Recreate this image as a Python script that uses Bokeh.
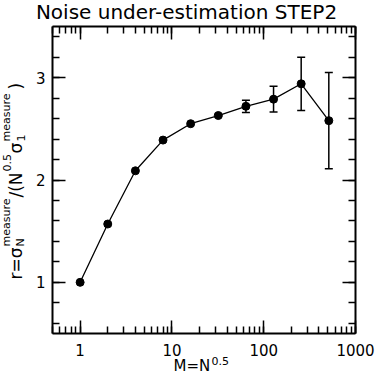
from math import pi, log10
from bokeh.plotting import figure
from bokeh.models import (ColumnDataSource, Whisker, TeeHead, Label, LinearAxis, LogAxis,
                          LogTicker, SingleIntervalTicker, PrintfTickFormatter, Range1d)
from bokeh.embed import file_html
from bokeh.resources import INLINE

# ---- data ----
m_values = [1, 2, 4, 8, 16, 32, 64, 128, 256, 512]
r_values = [1.00, 1.57, 2.09, 2.39, 2.55, 2.63, 2.72, 2.79, 2.94, 2.58]
r_errors = [0, 0, 0, 0, 0, 0.01, 0.06, 0.125, 0.26, 0.47]
title_text = "Noise under-estimation STEP2"
x_box = (0.5, 1000)   # plotted x interval (box edges)
y_box = (0.5, 3.5)    # plotted y interval (box edges)

FONT = "DejaVu Sans"
W, H = 378, 376
BL, BR, BT, BB = 52, 355, 26, 333   # box edges in canvas pixels

# extend ranges so that the whole canvas is the frame and the box sits at BL..BR, BT..BB
lx0, lx1 = log10(x_box[0]), log10(x_box[1])
dpx = (lx1 - lx0) / (BR - BL)
xr = Range1d(10 ** (lx0 - BL * dpx), 10 ** (lx1 + (W - BR) * dpx))
dpy = (y_box[1] - y_box[0]) / (BB - BT)
yr = Range1d(y_box[0] - (H - BB) * dpy, y_box[1] + BT * dpy)

p = figure(width=W, height=H, x_axis_type="log", x_range=xr, y_range=yr,
           output_backend="svg", toolbar_location=None,
           min_border_left=0, min_border_right=0, min_border_top=0, min_border_bottom=0)
p.xgrid.visible = False
p.ygrid.visible = False
p.outline_line_color = None
p.background_fill_color = "white"
p.border_fill_color = "white"

xticker = LogTicker(num_minor_ticks=10)
yticker = SingleIntervalTicker(interval=1, num_minor_ticks=5)


def style(ax, show_labels=True, standoff=7):
    ax.axis_line_width = 2
    ax.axis_line_color = "black"
    ax.major_tick_in = 13
    ax.major_tick_out = 0
    ax.minor_tick_in = 7
    ax.minor_tick_out = 0
    ax.major_tick_line_width = 1.5
    ax.minor_tick_line_width = 1.5
    ax.major_tick_line_color = "black"
    ax.minor_tick_line_color = "black"
    ax.major_label_text_font = FONT
    ax.major_label_text_color = "black"
    ax.major_label_standoff = standoff
    if show_labels:
        ax.major_label_text_font_size = "15px"
    else:
        ax.major_label_text_font_size = "1px"
        ax.major_label_text_alpha = 0
        ax.major_label_standoff = 0


bottom = p.xaxis[0]
bottom.ticker = xticker
bottom.formatter = PrintfTickFormatter(format="%d")
bottom.fixed_location = y_box[0]
bottom.bounds = x_box
style(bottom, True, 10)

left = p.yaxis[0]
left.ticker = yticker
left.fixed_location = x_box[0]
left.bounds = y_box
style(left, True, 7)

top = LogAxis(ticker=xticker, fixed_location=y_box[1], bounds=x_box)
style(top, False)
p.add_layout(top, "above")
right = LinearAxis(ticker=yticker, fixed_location=x_box[1], bounds=y_box)
style(right, False)
p.add_layout(right, "right")

# ---- data marks ----
p.line(m_values, r_values, line_color="black", line_width=1.3)
p.scatter(m_values, r_values, size=8, color="black")

ex = [m for m, e in zip(m_values, r_errors) if e > 0]
ey = [r for r, e in zip(r_values, r_errors) if e > 0]
ee = [e for e in r_errors if e > 0]
esrc = ColumnDataSource(dict(x=ex, lower=[a - b for a, b in zip(ey, ee)],
                             upper=[a + b for a, b in zip(ey, ee)]))
p.add_layout(Whisker(source=esrc, base="x", lower="lower", upper="upper", dimension="height",
                     line_width=1.5, line_color="black",
                     upper_head=TeeHead(size=8, line_width=1.5, line_color="black"),
                     lower_head=TeeHead(size=8, line_width=1.5, line_color="black")))


# ---- texts (screen units; frame == whole canvas; py = vertical middle of the text) ----
def lab(text, px, py, size, angle=0.0, align="left"):
    p.add_layout(Label(x=px, y=H - py, x_units="screen", y_units="screen", text=text,
                       text_font=FONT, text_font_size=f"{size}px", text_color="black",
                       angle=angle, text_align=align, text_baseline="middle"))


lab(title_text, 186, 11.5, 20, align="center")

# x label  M=N^0.5
lab("M=N", 173, 365, 15)
lab("0.5", 211, 360, 11)

# y label  r = sigma_N^measure / (N^0.5 sigma_1^measure)
B = 15
R = pi / 2
lab("r=σ", B, 279, 17, R)
lab("measure", B - 9, 246, 11, R)
lab("N", B + 5, 246, 11, R)
lab("/(N", B, 197, 17, R)
lab("0.5", B - 9, 171, 11, R)
lab("σ", B, 153, 17, R)
lab("measure", B - 9, 141, 11, R)
lab("1", B + 5, 141, 11, R)
lab(")", B, 89, 17, R)

open("out.html", "w").write(file_html(p, INLINE))
